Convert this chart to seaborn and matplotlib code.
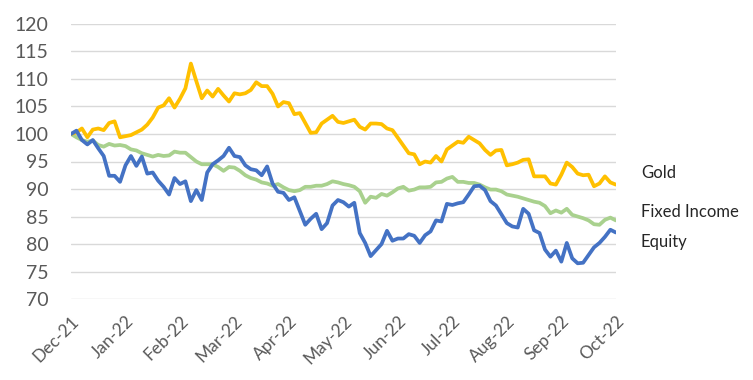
import numpy as np
import pandas as pd
import matplotlib.pyplot as plt
import seaborn as sns

# month offsets from Dec-21, sampled every 0.1 month
months = ['Dec-21', 'Jan-22', 'Feb-22', 'Mar-22', 'Apr-22', 'May-22',
          'Jun-22', 'Jul-22', 'Aug-22', 'Sep-22', 'Oct-22']

gold = [100, 100.3, 101.0, 99.4, 100.8, 101.0, 100.7, 102.0, 102.3, 99.4,
        99.6, 99.8, 100.3, 100.8, 101.7, 103.0, 104.8, 105.2, 106.5, 104.8,
        106.4, 108.3, 112.8, 109.6, 106.5, 107.9, 106.8, 108.2, 107.0, 105.9,
        107.4, 107.2, 107.4, 108.0, 109.4, 108.7, 108.7, 107.3, 105.0, 105.8,
        105.6, 103.6, 103.8, 102.0, 100.2, 100.3, 101.9, 102.6, 103.3, 102.2,
        102.0, 102.3, 102.6, 101.3, 100.8, 101.9, 101.9, 101.8, 101.0, 100.7,
        99.3, 97.9, 96.5, 96.3, 94.5, 95.0, 94.8, 96.0, 95.0, 97.2,
        97.9, 98.6, 98.4, 99.5, 98.9, 98.3, 97.1, 96.2, 97.0, 97.1,
        94.3, 94.5, 94.8, 95.3, 95.4, 92.3, 92.3, 92.3, 91.0, 90.8,
        92.6, 94.8, 94.0, 92.8, 92.5, 92.6, 90.5, 91.0, 92.3, 91.2,
        90.8]

fixed_income = [100, 99.4, 98.9, 98.6, 98.8, 98.0, 97.7, 98.2, 97.9, 98.0,
                97.8, 97.2, 97.0, 96.5, 96.2, 95.9, 96.2, 96.0, 96.1, 96.8,
                96.6, 96.6, 95.8, 95.0, 94.5, 94.5, 94.5, 94.0, 93.3, 94.0,
                93.9, 93.3, 92.5, 92.0, 91.7, 91.2, 91.0, 90.6, 90.9, 90.3,
                89.8, 89.6, 89.8, 90.4, 90.4, 90.6, 90.6, 90.9, 91.4, 91.2,
                90.9, 90.7, 90.4, 89.6, 87.5, 88.6, 88.4, 89.1, 88.8, 89.4,
                90.1, 90.4, 89.7, 89.9, 90.3, 90.3, 90.4, 91.2, 91.3, 91.9,
                92.2, 91.3, 91.3, 91.1, 91.1, 90.8, 90.3, 89.9, 89.9, 89.6,
                89.0, 88.8, 88.6, 88.3, 88.0, 87.7, 87.5, 86.9, 85.6, 86.1,
                85.7, 86.4, 85.3, 85.0, 84.7, 84.3, 83.6, 83.5, 84.4, 84.8,
                84.3]

equity = [100, 100.6, 98.9, 98.1, 98.9, 97.4, 96.0, 92.4, 92.4, 91.3,
          94.3, 96.0, 94.2, 95.9, 92.8, 93.0, 91.5, 90.4, 89.0, 92.0,
          90.9, 91.4, 87.8, 89.8, 88.0, 93.0, 94.5, 95.2, 96.0, 97.5,
          96.0, 95.8, 94.3, 93.6, 93.4, 92.5, 94.1, 91.0, 89.5, 89.3,
          88.0, 88.5, 86.0, 83.5, 84.6, 85.5, 82.7, 83.8, 87.0, 88.0,
          87.6, 86.8, 87.5, 82.0, 80.2, 77.8, 78.9, 80.0, 82.4, 80.6,
          81.0, 81.0, 81.8, 81.5, 80.2, 81.6, 82.3, 84.3, 84.1, 87.3,
          87.1, 87.4, 87.6, 89.0, 90.5, 90.6, 89.8, 87.8, 87.0, 85.4,
          83.8, 83.2, 83.0, 86.4, 85.5, 82.5, 82.0, 79.0, 77.7, 78.8,
          76.8, 80.2, 77.4, 76.5, 76.6, 78.0, 79.4, 80.2, 81.3, 82.6,
          82.1]

step = np.arange(len(gold)) / 10

df = pd.DataFrame({'t': step, 'Gold': gold, 'Fixed Income': fixed_income,
                   'Equity': equity})
long_df = df.melt(id_vars='t', var_name='asset', value_name='value')

colors = {'Gold': '#FFC000', 'Fixed Income': '#A9D18E', 'Equity': '#4472C4'}

sns.set_style('white')
plt.rcParams['font.family'] = ['Lato', 'DejaVu Sans']

fig = plt.figure(figsize=(7.53, 3.80), dpi=100)
ax = fig.add_axes([0.0943, 0.213, 0.7235, 0.724])

sns.lineplot(data=long_df, x='t', y='value', hue='asset', palette=colors,
             hue_order=['Fixed Income', 'Gold', 'Equity'],
             linewidth=2.7, legend=False, ax=ax)

ax.set_xlim(0, 10)
ax.set_ylim(70, 120)
ax.set_yticks(range(70, 121, 5))
ax.set_xticks(range(len(months)))
ax.set_xticklabels(months, rotation=45, ha='right', rotation_mode='anchor')
ax.tick_params(axis='y', labelsize=14, colors='#595959', length=0, pad=16)
ax.tick_params(axis='x', labelsize=12.5, colors='#595959', length=0, pad=10)
ax.grid(axis='y', color='#D9D9D9', linewidth=1)
ax.set_axisbelow(True)
for s in ax.spines.values():
    s.set_visible(False)
ax.set_xlabel('')
ax.set_ylabel('')

# series labels on the right
ax.text(10.46, 93.0, 'Gold', fontsize=12, va='center', clip_on=False)
ax.text(10.46, 85.8, 'Fixed Income', fontsize=12, va='center', clip_on=False)
ax.text(10.46, 80.4, 'Equity', fontsize=12, va='center', clip_on=False)

fig.savefig('out.png', dpi=100)
